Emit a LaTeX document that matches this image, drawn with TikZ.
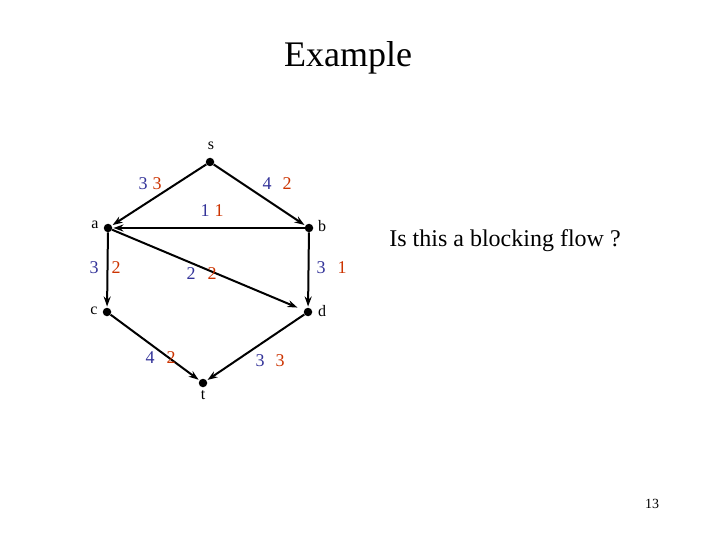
\documentclass[tikz,border=0pt]{standalone}
\usepackage{fontspec}
\setmainfont{Liberation Serif}
\usetikzlibrary{arrows.meta}
\definecolor{capb}{RGB}{51,51,153}
\definecolor{flowr}{RGB}{204,51,0}
\begin{document}
\begin{tikzpicture}[x=1pt,y=-1pt,
  vert/.style={circle,fill=black,inner sep=0pt,minimum size=8.5pt},
  edge/.style={line width=2pt,-{Stealth[length=10pt,width=7pt]},shorten >=1pt},
  vlab/.style={font=\fontsize{16}{18}\selectfont},
  cb/.style={text=capb,font=\fontsize{18}{20}\selectfont,inner sep=0pt},
  fr/.style={text=flowr,font=\fontsize{18}{20}\selectfont,inner sep=0pt}]
\useasboundingbox (0,0) rectangle (720,540);
\node (title) at (348,58) {\fontsize{36}{40}\selectfont Example};
\node (q) at (505,241) {\fontsize{24}{28}\selectfont Is this a blocking flow ?};
\node (pg) at (652,504) {\fontsize{14}{16}\selectfont 13};
\node[vert] (s) at (210,162) {};
\node[vert] (a) at (108,228) {};
\node[vert] (b) at (309,228) {};
\node[vert] (c) at (107,312) {};
\node[vert] (d) at (308,312) {};
\node[vert] (t) at (203,383) {};
\node[vlab] (ls) at (211,146) {s};
\node[vlab] (la) at (95,225) {a};
\node[vlab] (lb) at (322,226) {b};
\node[vlab] (lc) at (94,311) {c};
\node[vlab] (ld) at (322,311) {d};
\node[vlab] (lt) at (203,395) {t};
\draw[edge] (s) -- (a);
\draw[edge] (s) -- (b);
\draw[edge] (b) -- (a);
\draw[edge] (a) -- (c);
\draw[edge] (b) -- (d);
\draw[edge,shorten >=7pt] (a) -- (d);
\draw[edge] (c) -- (t);
\draw[edge] (d) -- (t);
\node[cb] (c1) at (143,184) {3}; \node[fr] (f1) at (157,184) {3};
\node[cb] (c2) at (267,184) {4}; \node[fr] (f2) at (287,184) {2};
\node[cb] (c3) at (205,211) {1}; \node[fr] (f3) at (219,211) {1};
\node[cb] (c4) at (94,268) {3}; \node[fr] (f4) at (116,268) {2};
\node[cb] (c5) at (191,274) {2}; \node[fr] (f5) at (212,274) {2};
\node[cb] (c6) at (321,268) {3}; \node[fr] (f6) at (342,268) {1};
\node[cb] (c7) at (150,358) {4}; \node[fr] (f7) at (171,358) {2};
\node[cb] (c8) at (260,361) {3}; \node[fr] (f8) at (280,361) {3};
\end{tikzpicture}
\end{document}
